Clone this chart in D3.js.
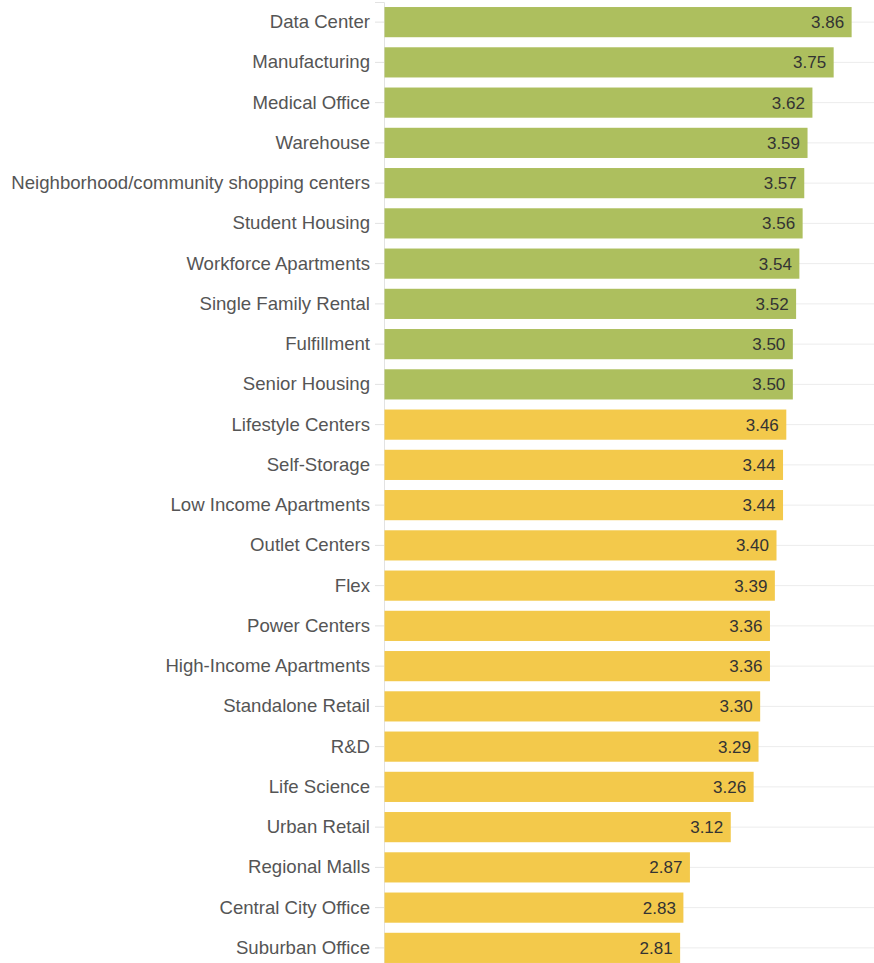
<!DOCTYPE html>
<html><head><meta charset="utf-8">
<script src="https://cdn.jsdelivr.net/npm/d3@7"></script>
<style>body{margin:0;background:#fff}svg{display:block}</style>
</head><body><svg id="c" width="874" height="963"></svg>
<script>
const categories=["Data Center","Manufacturing","Medical Office","Warehouse","Neighborhood/community shopping centers","Student Housing","Workforce Apartments","Single Family Rental","Fulfillment","Senior Housing","Lifestyle Centers","Self-Storage","Low Income Apartments","Outlet Centers","Flex","Power Centers","High-Income Apartments","Standalone Retail","R&D","Life Science","Urban Retail","Regional Malls","Central City Office","Suburban Office"];
const values=[3.86,3.75,3.62,3.59,3.57,3.56,3.54,3.52,3.50,3.50,3.46,3.44,3.44,3.40,3.39,3.36,3.36,3.30,3.29,3.26,3.12,2.87,2.83,2.81];
const groups=["top","top","top","top","top","top","top","top","top","top","rest","rest","rest","rest","rest","rest","rest","rest","rest","rest","rest","rest","rest","rest"];
const xDomain=[1,4];
const data=categories.map((c,i)=>({c,v:values[i],g:groups[i]}));
const svg=d3.select("#c");
const mL=384,mR=874,mT=2,mB=968;
const x=d3.scaleLinear().domain(xDomain).range([mL,mR]);
const y=d3.scaleBand().domain(categories).range([mT,mB]).paddingInner(0.25).paddingOuter(0.125);
const color=d3.scaleOrdinal().domain(["top","rest"]).range(["#adbf5e","#f3c94b"]);
const font="'Liberation Sans',Arial,sans-serif";
svg.append("g").selectAll("line").data(categories).join("line")
 .attr("x1",mL).attr("x2",mR)
 .attr("y1",d=>y(d)+y.bandwidth()/2).attr("y2",d=>y(d)+y.bandwidth()/2)
 .attr("stroke","#ececec").attr("stroke-width",1);
const ax=svg.append("g").attr("transform",`translate(${mL},0)`).call(d3.axisLeft(y).tickSize(9).tickPadding(5));
ax.select(".domain").attr("stroke","#e2e2e2");
ax.selectAll(".tick line").attr("stroke","#e2e2e2");
ax.selectAll(".tick text").attr("fill","#555").style("font-family",font).style("font-size","18.6px");
svg.append("g").selectAll("rect").data(data).join("rect")
 .attr("x",x(xDomain[0])+0.5).attr("y",d=>y(d.c))
 .attr("width",d=>x(d.v)-x(xDomain[0])).attr("height",y.bandwidth())
 .attr("fill",d=>color(d.g));
svg.append("g").selectAll("text").data(data).join("text")
 .attr("x",d=>x(d.v)-7).attr("y",d=>y(d.c)+y.bandwidth()/2)
 .attr("dy","0.35em").attr("text-anchor","end")
 .attr("fill","#333").style("font-family",font).style("font-size","17px")
 .text(d=>d.v.toFixed(2));
</script></body></html>
